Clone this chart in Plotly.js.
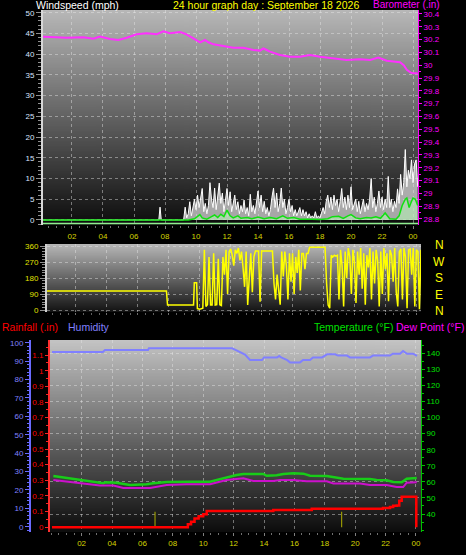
<!DOCTYPE html>
<html><head><meta charset="utf-8">
<script src="https://cdn.plot.ly/plotly-3.0.1.min.js"></script>
<style>html,body{margin:0;padding:0;background:#000;}#chart{width:466px;height:555px;}</style>
</head><body><div id="chart"></div>
<script>
// ---------- DATA (hours of the day, 24 = midnight) ----------
const hourTicks  = [2,4,6,8,10,12,14,16,18,20,22,24];
const hourLabels = ['02','04','06','08','10','12','14','16','18','20','22','00'];

// Wind gust (mph): quiet early part, then 0.1 h samples from 9.0 h
const gustEarlyH = [0.13, 7.6, 7.68, 7.76, 8.9];
const gustEarly  = [0, 0, 3.1, 0, 0];
const gustLateStart = 9.0, gustLateStep = 0.1;
const gustLate = [
  0, 0, 0, 3.1, 0.5, 1.5, 4.4, 1, 3, 5,
  2.5, 6, 3, 5.5, 7.6, 2, 4, 1.5, 3.5, 9,
  5, 3, 7.7, 2.5, 6, 8.9, 4, 6.5, 2, 5,
  7.6, 3.5, 6.8, 2, 4.5, 6, 2.5, 4.4, 1.5, 3.5,
  2, 4.8, 1.5, 3, 1, 6.2, 2, 3.5, 1.5, 5,
  7, 3, 6, 2, 4.5, 1.5, 3, 1, 2.5, 5.5,
  7.7, 3, 6.5, 2, 4, 7.7, 3, 5, 1.5, 3,
  5, 2, 3.5, 1, 2.5, 1, 2, 3, 1, 2.5,
  1, 2, 0.5, 1.5, 0.5, 1, 0.5, 2, 0.5, 1,
  0.5, 1.5, 3, 1.5, 4.5, 6, 3, 5.5, 2.5, 6,
  3.5, 5, 2, 4.5, 7.6, 3, 5.5, 2.5, 6, 3,
  8, 2.5, 4, 5, 2, 4.5, 1.5, 3.5, 5, 2,
  4, 2.5, 5, 10, 3, 5.5, 2, 4, 7, 3,
  5.5, 2.5, 5, 3, 10.5, 3, 5, 2, 4.5, 3,
  7.5, 4, 11, 6, 9, 17, 8, 12, 10, 14.5,
  9, 13.5, 14.5, 8
];

// Average wind speed (mph)
const avgH = [0.13, 9.5, 9.9, 10.1, 10.25, 10.4, 10.7, 11.0, 11.2, 11.4, 11.6, 11.8, 12.0, 12.2, 12.4, 12.7, 12.9, 13.3, 13.6, 14.0, 14.4, 14.8, 15.2, 15.6, 15.9, 16.3, 16.7, 17.5, 18.0, 18.5, 18.8, 19.2, 19.5, 19.8, 20.0, 20.3, 20.6, 21.0, 21.3, 21.6, 21.9, 22.2, 22.5, 22.9, 23.1, 23.3, 23.5, 23.6, 23.75, 23.9, 24.0, 24.15, 24.3];
const avgWind = [0, 0, 0.3, 0.8, 1.3, 0.5, 0.2, 0.8, 1.2, 0.6, 1.4, 0.8, 2.4, 1.0, 0.5, 1.0, 0.4, 0.6, 0.3, 0.7, 0.3, 0.6, 0.3, 1.0, 0.4, 0.6, 0.2, 0.2, 0.1, 0.3, 0.8, 0.9, 0.4, 1.0, 1.3, 0.5, 0.3, 0.6, 0.5, 0.8, 0.4, 1.7, 0.3, 0.2, 1.0, 3.5, 5.0, 5.3, 3.0, 4.5, 5.3, 5.0, 3.5];

// Barometer (inHg)
const baroH = [0.13, 0.21, 1.66, 2.73, 3.38, 3.81, 4.45, 4.99, 5.53, 6.17, 6.82, 7.46, 7.89, 8.32, 8.97, 9.29, 9.72, 10.05, 10.26, 10.58, 10.8, 11.12, 11.55, 12.41, 13.05, 13.7, 14.13, 14.34, 14.56, 14.77, 15.42, 16.06, 16.71, 17.35, 18.0, 18.86, 19.72, 20.58, 21.23, 21.76, 22.3, 23.16, 23.4, 23.6, 23.85, 24.0, 24.3];
const baro = [30.223, 30.223, 30.215, 30.218, 30.207, 30.223, 30.205, 30.197, 30.215, 30.241, 30.249, 30.241, 30.265, 30.249, 30.259, 30.246, 30.218, 30.197, 30.179, 30.197, 30.179, 30.163, 30.153, 30.137, 30.137, 30.119, 30.114, 30.132, 30.119, 30.106, 30.08, 30.067, 30.067, 30.08, 30.067, 30.054, 30.041, 30.046, 30.041, 30.059, 30.035, 30.023, 30.0, 29.965, 29.942, 29.937, 29.937];

// Wind direction (degrees)
const dirEarlyH = [0.13, 7.85, 7.92, 9.6, 9.65, 9.8, 9.85, 10.0, 10.2];
const dirEarly  = [107, 107, 28, 28, 154, 154, 8, 5, 10];
const dirLateStart = 10.3, dirLateStep = 0.1;
const dirLate = [
  340, 20, 30, 300, 28, 28, 320,
  28, 30, 290, 30, 25, 300, 200, 340, 90, 330,
  345, 310, 250, 340, 320, 350, 280, 330, 240, 131,
  330, 28, 180, 320, 100, 300, 333, 333, 333, 47,
  333, 333, 333, 333, 333, 333, 333, 333, 150, 60,
  200, 100, 30, 330, 190, 330, 250, 60, 320, 160,
  320, 90, 300, 210, 340, 110, 320, 320, 230, 320,
  320, 354, 354, 354, 354, 354, 354, 354, 354, 354,
  354, 354, 150, 28, 10, 310, 300, 310, 305, 310,
  60, 340, 250, 20, 330, 180, 350, 300, 90, 340,
  270, 40, 330, 200, 350, 120, 320, 30, 310, 240,
  350, 60, 330, 150, 340, 280, 20, 330, 90, 350,
  230, 320, 50, 340, 310, 160, 350, 100, 20, 330,
  345, 60, 350, 300, 10, 340, 345, 200, 350, 20,
  340, 330, 5, 340
];

// Humidity (%)
const humH = [0.05, 3.4, 3.54, 6.37, 6.43, 11.9, 12.16, 12.42, 12.75, 13.08, 13.87, 14.0, 14.86, 15.0, 15.13, 15.53, 15.71, 16.37, 16.57, 17.03, 17.22, 17.82, 18.15, 18.67, 18.87, 19.46, 19.66, 20.97, 21.17, 22.29, 22.48, 22.95, 23.15, 23.41, 23.8, 24.07];
const humidity = [94.9, 94.9, 96, 96, 97, 97, 96, 95, 93.5, 90.6, 90.6, 92, 92, 92.8, 92, 90.5, 89.3, 89.3, 90.6, 90.6, 92, 92, 93.7, 93.7, 93, 93, 92, 92, 93, 93, 94, 94, 95.5, 94, 94, 92.8];

// Temperature (°F)
const tempH = [0.14, 1.89, 3.43, 3.54, 4.31, 5.18, 5.84, 6.28, 6.72, 7.6, 9.13, 10.45, 10.89, 11.54, 12.2, 12.64, 13.95, 14.18, 14.83, 15.27, 15.93, 16.59, 17.03, 18.13, 18.56, 19.22, 20.97, 21.41, 22.07, 22.51, 23.06, 23.39, 24.05];
const temperature = [63.6, 61.2, 59.1, 59.7, 59.5, 58.1, 58.1, 58.5, 59.1, 59.9, 60.1, 60.1, 61.2, 62.8, 64.3, 64.9, 64.9, 63.8, 64.1, 64.9, 65.3, 65.1, 63.8, 63.6, 62.8, 62, 61.8, 61.2, 61, 59.9, 59.7, 62, 62.4];

// Dew point (°F)
const dewH = [0.14, 1.46, 3.21, 4.09, 4.74, 6.5, 7.6, 8.91, 10.45, 11.54, 12.64, 13.3, 14.61, 15.05, 15.93, 16.81, 18.13, 18.56, 20.32, 20.97, 22.07, 22.73, 23.16, 23.39, 24.05];
const dewPoint = [61.2, 59.7, 57.7, 57.7, 56.2, 56.2, 58.1, 58.5, 58.5, 61.2, 62.2, 60.6, 60.6, 61.2, 61.2, 60.4, 60.4, 59.0, 59.0, 58.1, 58.1, 56.8, 56.8, 59.5, 59.7];

// Rainfall (in, cumulative)
const rainH = [0.05, 8.69, 8.99, 9.2, 9.43, 9.7, 10.0, 10.23, 14.61, 17.14, 21.83, 22.29, 22.5, 22.73, 22.9, 23.06, 24.0, 24.02];
const rainfall = [0, 0, 0.02, 0.035, 0.057, 0.07, 0.083, 0.104, 0.11, 0.119, 0.123, 0.13, 0.137, 0.14, 0.17, 0.195, 0.195, 0];

// Rain rate marks
const rateH = [6.83, 19.11];
const rate  = [0.1, 0.1];

// ---------- BUILD ----------
const W = 466, H = 555;
const px = x => x / W, py = y => 1 - y / H;
function seqHours(start, step, n){ const a=[]; for(let i=0;i<n;i++) a.push(+(start+i*step).toFixed(2)); return a; }
const gustH = gustEarlyH.concat(seqHours(gustLateStart, gustLateStep, gustLate.length));
const gust  = gustEarly.concat(gustLate);
const dirH  = dirEarlyH.concat(seqHours(dirLateStart, dirLateStep, dirLate.length));
const dir   = dirEarly.concat(dirLate);

function grad(c1, c2){
  const c=document.createElement('canvas'); c.width=4; c.height=256;
  const g=c.getContext('2d'); const lg=g.createLinearGradient(0,0,0,256);
  lg.addColorStop(0,c1); lg.addColorStop(1,c2); g.fillStyle=lg; g.fillRect(0,0,4,256);
  return c.toDataURL();
}
function bgImg(x0,x1,y0,y1,c1,c2){
  return {source:grad(c1,c2), xref:'paper', yref:'paper', x:px(x0), y:py(y0),
    sizex:(x1-x0)/W, sizey:(y1-y0)/H, sizing:'stretch', xanchor:'left', yanchor:'top', layer:'below'};
}

const F = 'Liberation Sans, Arial, sans-serif';
const gridC = 'rgba(230,230,230,0.45)';

const traces = [
  {x:gustH, y:gust, xaxis:'x', yaxis:'y', type:'scatter', mode:'lines',
   line:{color:'#ffffff', width:1}, fill:'tozeroy', fillcolor:'rgba(225,225,225,0.72)'},
  {x:avgH, y:avgWind, xaxis:'x', yaxis:'y', type:'scatter', mode:'lines',
   line:{color:'#10e010', width:1.5}, fill:'tozeroy', fillcolor:'rgba(180,240,180,0.6)'},
  {x:baroH, y:baro, xaxis:'x', yaxis:'y2', type:'scatter', mode:'lines',
   line:{color:'#ff30ff', width:2}},
  {x:dirH, y:dir, xaxis:'x2', yaxis:'y3', type:'scatter', mode:'lines',
   line:{color:'#ffff00', width:1.5}},
  {x:rateH, y:rate, xaxis:'x3', yaxis:'y4', type:'bar', width:0.07,
   marker:{color:'#a8a800'}},
  {x:rainH, y:rainfall, xaxis:'x3', yaxis:'y4', type:'scatter', mode:'lines',
   line:{color:'#ff0000', width:2.5, shape:'hv'}},
  {x:humH, y:humidity, xaxis:'x3', yaxis:'y5', type:'scatter', mode:'lines',
   line:{color:'#8080ff', width:2}},
  {x:tempH, y:temperature, xaxis:'x3', yaxis:'y6', type:'scatter', mode:'lines',
   line:{color:'#18cc18', width:2.5}},
  {x:dewH, y:dewPoint, xaxis:'x3', yaxis:'y6', type:'scatter', mode:'lines',
   line:{color:'#cc10cc', width:2}}
];

function ann(text, x, y, color, size, xanchor){
  return {text:text, x:px(x), y:py(y), xref:'paper', yref:'paper', showarrow:false,
    xanchor:xanchor||'left', yanchor:'middle', font:{family:F, size:size||10.5, color:color}};
}

const layout = {
  width:W, height:H, margin:{l:0,r:0,t:0,b:0},
  paper_bgcolor:'#000', plot_bgcolor:'rgba(0,0,0,0)', showlegend:false,
  font:{family:F, size:8}, barmode:'overlay',
  images:[
    bgImg(43,418,10,225,'#b8b8b8','#0c0c0c'),
    bgImg(47,421,244,312,'#b8b8b8','#121212'),
    bgImg(50,421,340,532,'#c4c4c4','#0c0c0c')
  ],
  xaxis:{domain:[px(43),px(418)], range:[0.13,24.32], anchor:'y',
    tickvals:hourTicks, ticktext:hourLabels, tickfont:{color:'#d4d400',size:8},
    ticks:'outside', ticklen:3, tickcolor:'#808080',
    minor:{tick0:0, dtick:0.5, ticks:'outside', ticklen:2, tickcolor:'#707070'},
    showgrid:true, gridcolor:gridC, griddash:'dot', zeroline:false, showline:false},
  yaxis:{domain:[py(225),py(10)], range:[-1.21,50.65], anchor:'x',
    tick0:0, dtick:5, tickfont:{color:'#d8e4ff',size:8},
    ticks:'outside', ticklen:5, tickcolor:'#909090',
    minor:{tick0:0, dtick:1, ticks:'outside', ticklen:3, tickcolor:'#909090'},
    showgrid:true, gridcolor:gridC, griddash:'dot', zeroline:false,
    showline:true, linecolor:'#d8d8d8', linewidth:2},
  yaxis2:{overlaying:'y', side:'right', anchor:'x', range:[28.753,30.431],
    tick0:28.8, dtick:0.1, tickfont:{color:'#ff00ff',size:8},
    ticks:'outside', ticklen:3, tickcolor:'#ff00ff',
    minor:{tick0:28.8, dtick:0.05, ticks:'outside', ticklen:2, tickcolor:'#ff00ff'},
    showgrid:false, zeroline:false, showline:true, linecolor:'#ff00ff', linewidth:1},
  xaxis2:{domain:[px(47),px(421)], range:[0.13,24.3], anchor:'y3',
    tickvals:hourTicks, showticklabels:false, ticks:'outside', ticklen:2, tickcolor:'#707070',
    minor:{tick0:0, dtick:0.5, ticks:'outside', ticklen:2, tickcolor:'#606060'},
    showgrid:true, gridcolor:gridC, griddash:'dot', zeroline:false, showline:false},
  yaxis3:{domain:[py(312),py(244)], range:[-11.3,373], anchor:'x2',
    tickvals:[0,90,180,270,360], tickfont:{color:'#e0e000',size:8},
    ticks:'outside', ticklen:5, tickcolor:'#909090',
    minor:{tick0:0, dtick:15, ticks:'outside', ticklen:3, tickcolor:'#909090'},
    showgrid:true, gridcolor:gridC, griddash:'dot', zeroline:false,
    showline:true, linecolor:'#d0d0d0', linewidth:2},
  xaxis3:{domain:[px(50),px(421)], range:[-0.08,24.33], anchor:'y4',
    tickvals:hourTicks, ticktext:hourLabels, tickfont:{color:'#d4d400',size:8},
    ticks:'outside', ticklen:3, tickcolor:'#808080',
    minor:{tick0:0, dtick:0.5, ticks:'outside', ticklen:2, tickcolor:'#707070'},
    showgrid:true, gridcolor:gridC, griddash:'dot', zeroline:false, showline:false},
  yaxis4:{domain:[py(532),py(340)], range:[-0.03,1.196], anchor:'x3', side:'left',
    tick0:0, dtick:0.1, tickfont:{color:'#ff0000',size:8},
    ticks:'outside', ticklen:3, tickcolor:'#ff2020',
    minor:{tick0:0, dtick:0.05, ticks:'outside', ticklen:2, tickcolor:'#ff2020'},
    showgrid:false, zeroline:false, showline:true, linecolor:'#ff3030', linewidth:2},
  yaxis5:{overlaying:'y4', anchor:'free', position:px(30), side:'left', range:[-2.88,101.47],
    tick0:0, dtick:10, tickfont:{color:'#8080ff',size:8},
    ticks:'outside', ticklen:4, tickcolor:'#6a6aff',
    minor:{tick0:0, dtick:2, ticks:'outside', ticklen:2, tickcolor:'#6a6aff'},
    showgrid:false, zeroline:false, showline:true, linecolor:'#6a6aff', linewidth:2},
  yaxis6:{overlaying:'y4', anchor:'x3', side:'right', range:[28.8,148.3],
    tickvals:[40,50,60,70,80,90,100,110,120,130,140], tickfont:{color:'#00e000',size:8},
    ticks:'outside', ticklen:3, tickcolor:'#00c000',
    minor:{tick0:0, dtick:5, ticks:'outside', ticklen:2, tickcolor:'#00c000'},
    showgrid:true, gridcolor:gridC, griddash:'dot', zeroline:false,
    showline:true, linecolor:'#00c000', linewidth:1},
  shapes:[
    {type:'line', xref:'paper', yref:'paper', x0:px(43), x1:px(418), y0:py(223.5), y1:py(223.5),
     line:{color:'#90ee90', width:1.5}}
  ],
  annotations:[
    ann('Windspeed (mph)', 34, 5, '#ffffff'),
    ann('24 hour graph day : September 18 2026', 171, 5, '#ffff00'),
    ann('Barometer (.in)', 371, 4.5, '#ff00ff', 10),
    ann('Rainfall (.in)', 0, 326.5, '#ff0000'),
    ann('Humidity', 66, 326.5, '#8080ff'),
    ann('Temperature (°F)', 312, 326.5, '#00e000'),
    ann('Dew Point (°F)', 394, 326.5, '#ff00ff'),
    ann('N', 439, 245, '#ffff00', 12, 'center'),
    ann('W', 439, 262, '#ffff00', 12, 'center'),
    ann('S', 439, 278, '#ffff00', 12, 'center'),
    ann('E', 439, 295, '#ffff00', 12, 'center'),
    ann('N', 439, 311, '#ffff00', 12, 'center')
  ]
};

Plotly.newPlot('chart', traces, layout, {staticPlot:true, displayModeBar:false});
</script></body></html>
